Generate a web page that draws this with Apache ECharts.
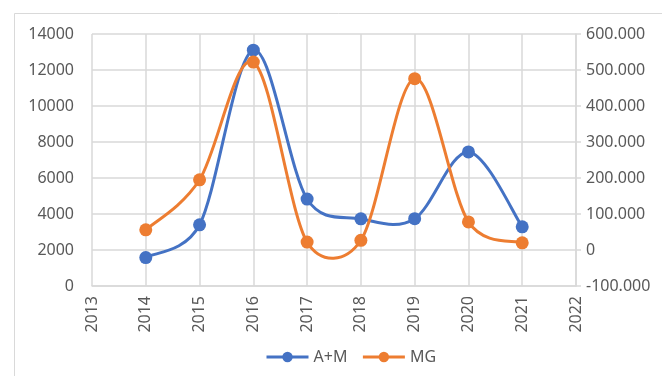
<!DOCTYPE html>
<html><head><meta charset="utf-8">
<script src="https://cdn.jsdelivr.net/npm/echarts@6/dist/echarts.min.js"></script>
<style>html,body{margin:0;padding:0;background:#fff}#c{width:662px;height:376px}</style>
</head><body><div id="c"></div>
<script>
var years = [2014, 2015, 2016, 2017, 2018, 2019, 2020, 2021];
var amValues = [1580, 3400, 13100, 4830, 3730, 3740, 7450, 3290];
var mgValues = [56000, 195000, 522000, 22000, 27000, 476000, 78000, 20000];
var seriesNames = ['A+M', 'MG'];
var colors = ['#4472C4', '#ED7D31'];

function fmtDots(v) {
  if (v === 0) return '0';
  var s = Math.abs(v).toString().replace(/\B(?=(\d{3})+(?!\d))/g, '.');
  return (v < 0 ? '-' : '') + s;
}

// Excel-style smoothed segment between point i and i+1, drawn via the axes' scales
function smoothRenderer(values, color) {
  return function (params, api) {
    var i = params.dataIndex, n = years.length;
    if (i >= n - 1) return null;
    function P(k) { k = Math.max(0, Math.min(n - 1, k)); return api.coord([years[k], values[k]]); }
    var p0 = P(i - 1), p1 = P(i), p2 = P(i + 1), p3 = P(i + 2);
    function d(a, b) { return Math.sqrt((a[0]-b[0])*(a[0]-b[0]) + (a[1]-b[1])*(a[1]-b[1])); }
    var d12 = d(p1, p2), d02 = d(p0, p2), d13 = d(p1, p3);
    var f1 = 1/6, f2 = 1/6;
    if (d02 / 6 >= d12 / 2 && d02 > 0) f1 = d12 / (2 * d02);
    if (d13 / 6 >= d12 / 2 && d13 > 0) f2 = d12 / (2 * d13);
    return {
      type: 'bezierCurve',
      shape: {
        x1: p1[0], y1: p1[1], x2: p2[0], y2: p2[1],
        cpx1: p1[0] + (p2[0] - p0[0]) * f1, cpy1: p1[1] + (p2[1] - p0[1]) * f1,
        cpx2: p2[0] - (p3[0] - p1[0]) * f2, cpy2: p2[1] - (p3[1] - p1[1]) * f2
      },
      style: { stroke: color, lineWidth: 3, fill: null },
      silent: true
    };
  };
}

var font = 'Noto Sans';
var chart = echarts.init(document.getElementById('c'));
chart.setOption({
  animation: false,
  backgroundColor: '#fff',
  graphic: [{type: 'rect', left: 12, top: 11, shape: {width: 660, height: 370}, style: {fill: 'none', stroke: '#d9d9d9', lineWidth: 1}, silent: true}],
  grid: {left: 92, right: 86, top: 34, bottom: 90},
  legend: {
    top: 344, left: 260, itemWidth: 42, itemHeight: 13, itemGap: 14,
    textStyle: {fontFamily: font, fontSize: 16, color: '#595959'},
    lineStyle: {opacity: 1, width: 3},
    data: seriesNames
  },
  xAxis: {
    type: 'value', min: 2013, max: 2022, interval: 1,
    axisLine: {show: true, lineStyle: {color: '#d9d9d9', width: 1.5}},
    axisTick: {show: false},
    splitLine: {show: true, lineStyle: {color: '#d9d9d9', width: 1.5}},
    axisLabel: {rotate: 90, margin: 10, fontFamily: font, fontSize: 16, color: '#595959', formatter: function(v){return String(v);}}
  },
  yAxis: [{
    type: 'value', min: 0, max: 14000, interval: 2000,
    axisLine: {show: false}, axisTick: {show: false},
    splitLine: {show: true, lineStyle: {color: '#d9d9d9', width: 1.5}},
    axisLabel: {margin: 18, fontFamily: font, fontSize: 16, color: '#595959', formatter: function(v){return String(v);}}
  }, {
    type: 'value', min: -100000, max: 600000, interval: 100000, position: 'right',
    axisLine: {show: true, lineStyle: {color: '#d9d9d9', width: 1.5}},
    axisTick: {show: true, length: 5, lineStyle: {color: '#d9d9d9', width: 1.5}},
    splitLine: {show: false},
    axisLabel: {margin: 10, fontFamily: font, fontSize: 16, color: '#595959', formatter: fmtDots}
  }],
  series: [{
    name: seriesNames[0] + ' curve', type: 'custom', yAxisIndex: 0, z: 2,
    data: years.map(function(y, i){return [y, amValues[i]];}),
    renderItem: smoothRenderer(amValues, colors[0])
  }, {
    name: seriesNames[1] + ' curve', type: 'custom', yAxisIndex: 1, z: 2,
    data: years.map(function(y, i){return [y, mgValues[i]];}),
    renderItem: smoothRenderer(mgValues, colors[1])
  }, {
    name: seriesNames[0], type: 'line', yAxisIndex: 0, z: 3,
    data: years.map(function(y, i){return [y, amValues[i]];}),
    symbol: 'circle', symbolSize: 13, showSymbol: true,
    lineStyle: {color: colors[0], width: 3, opacity: 0}, itemStyle: {color: colors[0]}
  }, {
    name: seriesNames[1], type: 'line', yAxisIndex: 1, z: 3,
    data: years.map(function(y, i){return [y, mgValues[i]];}),
    symbol: 'circle', symbolSize: 13, showSymbol: true,
    lineStyle: {color: colors[1], width: 3, opacity: 0}, itemStyle: {color: colors[1]}
  }]
});
</script></body></html>
